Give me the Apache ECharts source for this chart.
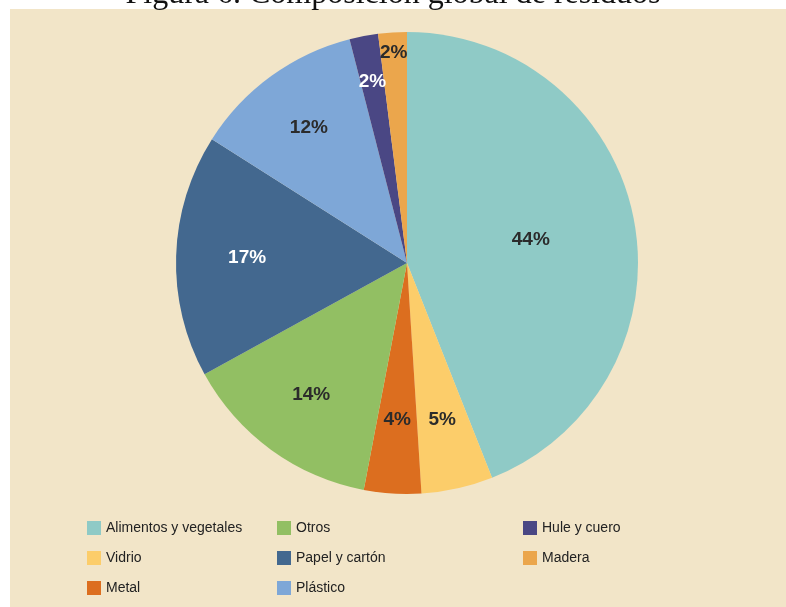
<!DOCTYPE html>
<html>
<head>
<meta charset="utf-8">
<script src="https://cdn.jsdelivr.net/npm/echarts@6/dist/echarts.min.js"></script>
<style>
	html, body { margin: 0; padding: 0; background: #ffffff; }
	#chart { width: 786px; height: 607px; }
</style>
</head>
<body>
<div id="chart"></div>
<script>
	// datos de la figura
	const categories = [
		"Alimentos y vegetales",
		"Vidrio",
		"Metal",
		"Otros",
		"Papel y cartón",
		"Plástico",
		"Hule y cuero",
		"Madera"
	];
	const shares = [44, 5, 4, 14, 17, 12, 2, 2];

	const colors = ["#8fcac6", "#fccd6a", "#dc6e1f", "#92bf63", "#43688f", "#7ea7d7", "#4a4784", "#eba64c"];
	const whiteLabels = ["Papel y cartón", "Hule y cuero"];

	// anillo donde va cada etiqueta (radio exterior del pie "fantasma")
	const labelRing = {
		"Alimentos y vegetales": 246,
		"Vidrio": 316,
		"Metal": 308,
		"Otros": 320,
		"Papel y cartón": 314,
		"Plástico": 328,
		"Hule y cuero": 362,
		"Madera": 416
	};

	const center = [407, 263];
	const labelFont = {
		fontFamily: "Liberation Sans",
		fontSize: 19,
		fontWeight: "bold"
	};

	const chart = echarts.init(document.getElementById("chart"));

	const mainSeries = {
		type: "pie",
		center: center,
		radius: [0, 231],
		startAngle: 90,
		clockwise: true,
		silent: true,
		label: { show: false },
		labelLine: { show: false },
		emphasis: { disabled: true },
		itemStyle: { borderWidth: 0 },
		data: categories.map((name, i) => ({
			name: name,
			value: shares[i],
			itemStyle: { color: colors[i] }
		}))
	};

	// pies transparentes solo para colocar las etiquetas
	const rings = [...new Set(Object.values(labelRing))];
	const labelSeries = rings.map(r => ({
		type: "pie",
		center: center,
		radius: [0, r],
		startAngle: 90,
		clockwise: true,
		silent: true,
		z: 5,
		emphasis: { disabled: true },
		labelLine: { show: false },
		itemStyle: { color: "rgba(0,0,0,0)", borderWidth: 0 },
		data: categories.map((name, i) => ({
			name: name,
			value: shares[i],
			label: {
				show: labelRing[name] === r,
				position: "inside",
				formatter: "{c}%",
				color: whiteLabels.includes(name) ? "#ffffff" : "#2b2b2b",
				...labelFont
			}
		}))
	}));

	const legendBase = {
		orient: "vertical",
		icon: "rect",
		itemWidth: 14,
		itemHeight: 14,
		itemGap: 16,
		selectedMode: false,
		textStyle: {
			fontFamily: "Liberation Sans",
			fontSize: 14,
			color: "#222222"
		}
	};

	const option = {
		animation: false,
		backgroundColor: "#ffffff",
		color: colors,
		graphic: [
			{
				type: "rect",
				z: -10,
				shape: { x: 10, y: 9, width: 776, height: 598 },
				style: { fill: "#f2e5c8" },
				silent: true
			},
			{
				type: "text",
				z: 10,
				x: 393,
				y: 11,
				style: {
					text: "Figura 6. Composición global de residuos",
					fontFamily: "Liberation Serif",
					fontSize: 32,
					fill: "#111111",
					align: "center",
					verticalAlign: "bottom"
				}
			}
		],
		legend: [
			{ ...legendBase, left: 82, top: 516, data: categories.slice(0, 3) },
			{ ...legendBase, left: 272, top: 516, data: categories.slice(3, 6) },
			{ ...legendBase, left: 518, top: 516, data: categories.slice(6) }
		],
		series: [mainSeries, ...labelSeries]
	};

	chart.setOption(option);
</script>
</body>
</html>
